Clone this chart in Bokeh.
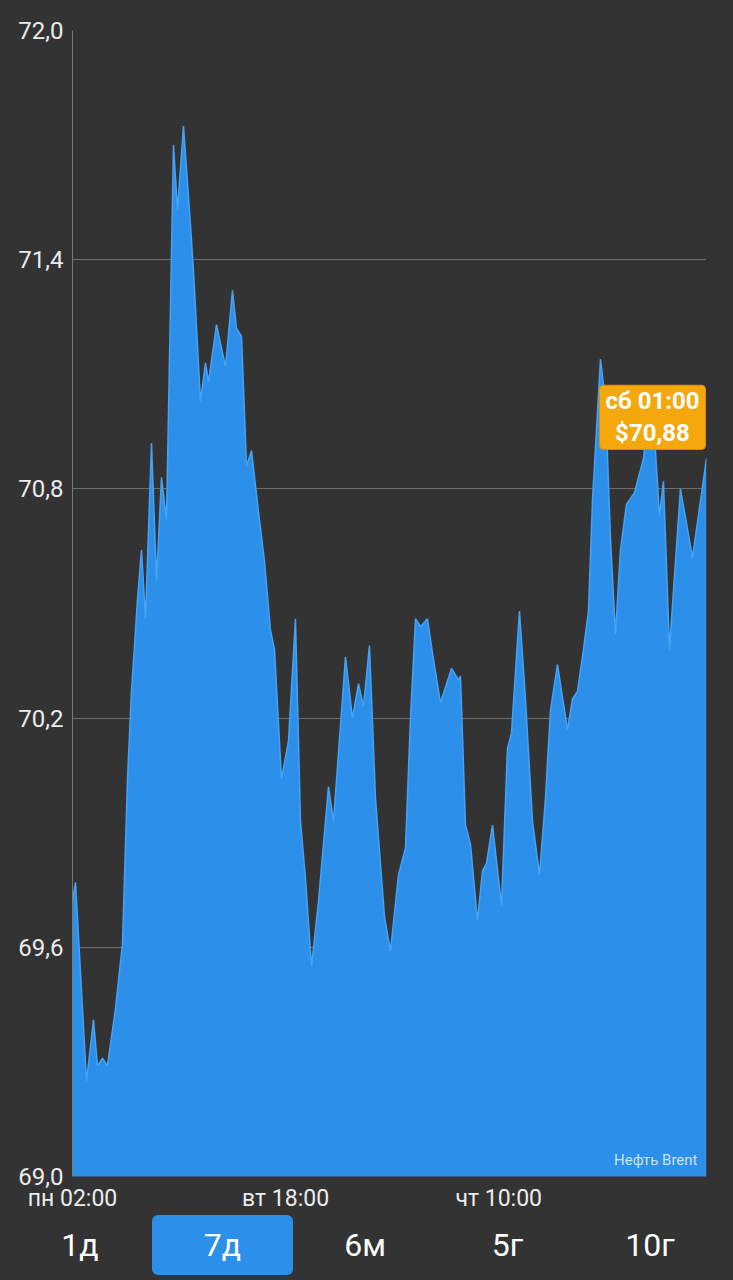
from bokeh.plotting import figure
from bokeh.models import Range1d, FixedTicker, CustomJSTickFormatter, Label, Div
from bokeh.layouts import column
from bokeh.embed import file_html
from bokeh.resources import INLINE

# ---- data (hours since "пн 02:00", Brent price in $) ----
hours = [0.0, 0.56, 2.63, 3.94, 4.69, 5.63, 6.57, 8.07, 9.38, 10.32, 11.07, 12.2, 12.95,
         13.7, 14.83, 15.77, 16.7, 17.64, 18.96, 19.71, 20.83, 22.15, 22.71, 24.02, 24.96,
         25.53, 27.03, 28.72, 30.03, 30.78, 31.72, 32.66, 33.6, 34.91, 36.04, 37.16, 37.91,
         39.23, 40.54, 41.85, 42.79, 43.73, 44.86, 46.17, 48.05, 48.99, 51.24, 52.55, 53.68,
         54.62, 55.74, 56.87, 58.56, 59.68, 61.19, 62.5, 63.44, 64.38, 65.32, 66.63, 67.57,
         69.07, 71.13, 72.45, 72.82, 73.76, 74.7, 76.01, 76.95, 77.7, 78.83, 80.52, 81.64,
         82.39, 83.9, 85.02, 86.34, 87.65, 88.78, 89.71, 91.03, 92.91, 93.84, 94.78, 95.91,
         96.85, 97.6, 99.1, 100.04, 100.98, 101.91, 102.85, 103.98, 105.48, 107.17, 108.67,
         110.17, 110.92, 112.05, 114.11, 116.37, 119.0]
prices = [69.72, 69.77, 69.25, 69.41, 69.29, 69.31, 69.29, 69.44, 69.61, 70.04, 70.27, 70.51, 70.64,
          70.46, 70.92, 70.56, 70.83, 70.72, 71.70, 71.53, 71.75, 71.49, 71.37, 71.03, 71.13,
          71.08, 71.23, 71.12, 71.32, 71.22, 71.20, 70.86, 70.90, 70.74, 70.61, 70.43, 70.38,
          70.04, 70.14, 70.46, 69.93, 69.78, 69.55, 69.72, 70.02, 69.93, 70.36, 70.20, 70.29,
          70.23, 70.39, 69.99, 69.68, 69.59, 69.79, 69.86, 70.20, 70.46, 70.44, 70.46, 70.37,
          70.24, 70.33, 70.30, 70.31, 69.92, 69.87, 69.67, 69.80, 69.82, 69.92, 69.71, 70.12,
          70.16, 70.48, 70.25, 69.93, 69.79, 69.99, 70.22, 70.34, 70.17, 70.25, 70.27, 70.38,
          70.48, 70.77, 71.14, 71.03, 70.67, 70.42, 70.64, 70.76, 70.79, 70.88, 71.07,
          70.73, 70.82, 70.38, 70.80, 70.62, 70.88]

x_tick_hours = [0, 40, 80]
x_tick_labels = ["пн 02:00", "вт 18:00", "чт 10:00"]
y_ticks = [69.0, 69.6, 70.2, 70.8, 71.4, 72.0]
series_name = "Нефть Brent"
tooltip_time = "сб 01:00"
periods = ["1д", "7д", "6м", "5г", "10г"]
selected_period = "7д"

# ---- style ----
BG = "#333333"
FONT = "Roboto"
AREA = "#2c8fe9"
EDGE = "#45a2f4"
GRID = "#6e6e6e"
TXT = "#ececec"
ORANGE = "#f5a80c"

p = figure(width=733, height=1214, x_range=Range1d(0, hours[-1]),
           y_range=Range1d(y_ticks[0], y_ticks[-1]),
           output_backend="svg", toolbar_location=None,
           min_border_left=72, min_border_right=27, min_border_top=30, min_border_bottom=36,
           background_fill_color=BG, border_fill_color=BG, outline_line_color=None)

p.varea(x=hours, y1=68.0, y2=prices, fill_color=AREA)
p.line(hours, prices, line_color=EDGE, line_width=1.5)

# axes
p.yaxis.ticker = FixedTicker(ticks=y_ticks)
p.yaxis.formatter = CustomJSTickFormatter(code="return tick.toFixed(1).replace('.', ',');")
p.yaxis.major_tick_out = 0
p.yaxis.major_tick_in = 0
p.yaxis.minor_tick_out = 0
p.yaxis.minor_tick_in = 0
p.yaxis.axis_line_color = "#7a7a7a"
p.yaxis.major_label_text_color = TXT
p.yaxis.major_label_text_font = FONT
p.yaxis.major_label_text_font_size = "24px"
p.yaxis.major_label_standoff = 9

p.xaxis.ticker = FixedTicker(ticks=x_tick_hours)
p.xaxis.major_label_overrides = {h: lab for h, lab in zip(x_tick_hours, x_tick_labels)}
p.xaxis.major_tick_out = 0
p.xaxis.major_tick_in = 0
p.xaxis.minor_tick_out = 0
p.xaxis.minor_tick_in = 0
p.xaxis.axis_line_color = None
p.xaxis.major_label_text_color = TXT
p.xaxis.major_label_text_font = FONT
p.xaxis.major_label_text_font_size = "23px"
p.xaxis.major_label_standoff = 8

p.xgrid.grid_line_color = None
p.ygrid.grid_line_color = GRID
p.ygrid.grid_line_width = 1

# series name in the lower right corner
p.add_layout(Label(x=hours[-1], y=y_ticks[0], x_offset=-9, y_offset=17, text=series_name,
                   text_align="right", text_baseline="middle",
                   text_font=FONT, text_font_size="15px",
                   text_color="#ffffff", text_alpha=0.75))

# tooltip for the last point
tip_text = tooltip_time + "\n$" + f"{prices[-1]:.2f}".replace(".", ",")
p.add_layout(Label(x=hours[-1], y=prices[-1], x_offset=-54, y_offset=41, text=tip_text,
                   text_align="center", text_baseline="middle",
                   text_font=FONT, text_font_size="24px", text_font_style="bold",
                   text_color="#ffffff", text_line_height=1.15,
                   background_fill_color=ORANGE, border_line_color="#d8920a",
                   padding=dict(left=6, right=6, top=2, bottom=2), border_radius=4))

# ---- period buttons row ----
step = 142.5
items = []
for i, per in enumerate(periods):
    left = 80 + step * i - 70.5
    bg = AREA if per == selected_period else "transparent"
    items.append(
        f'<div style="position:absolute;left:{left:.1f}px;top:1px;width:141px;height:60px;'
        f'line-height:60px;text-align:center;border-radius:6px;background:{bg};'
        f'color:#ffffff;font-family:Roboto;font-size:32px;">{per}</div>')
buttons = Div(text='<div style="position:relative;width:733px;height:62px;background:#333333;">'
              + "".join(items) + "</div>",
              width=733, height=62, margin=0, styles={"background-color": BG})

layout = column(p, buttons, spacing=0)
html = file_html(layout, INLINE)
html = html.replace("</head>", "<style>html, body { background: #333333; }</style></head>", 1)
open("out.html", "w").write(html)
